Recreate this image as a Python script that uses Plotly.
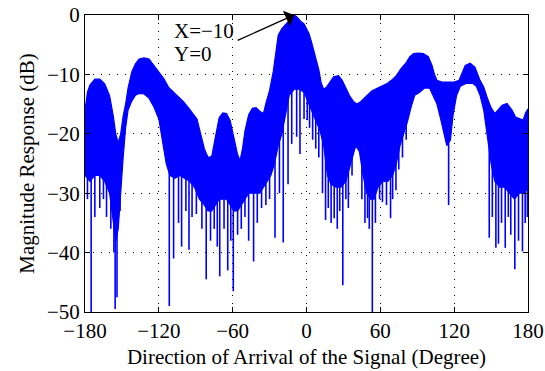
import numpy as np
import plotly.graph_objects as go

# Envelope of the beam pattern (degrees, dB)
ANG = [-180, -178, -176, -172, -168, -164, -160, -157, -155, -153, -151, -149, -147, -145, -142, -139, -136, -132,
       -128, -124, -120, -116, -112, -108, -104, -100, -96, -92, -89, -86, -83, -80, -77, -74, -71, -68, -65, -62,
       -59, -56, -54, -52, -50, -47, -44, -41, -38, -35, -33, -30, -27, -25, -23, -20, -17, -14, -12, -10, -8, -5,
       -2, 0, 2, 4, 6, 8, 10, 12, 14, 16, 19, 22, 26, 29, 32, 35, 38, 41, 44, 47, 50, 53, 57, 61, 65, 69, 73, 77,
       81, 84, 87, 91, 95, 99, 102, 104, 106, 110, 115, 120, 124, 127, 129, 133, 137, 141, 144, 147, 150, 153, 156,
       159, 163, 167, 170, 173, 176, 178, 180]
TOP = [-16, -13, -11.8, -10.8, -10.8, -11.6, -13.6, -17, -20, -21.5, -20, -17, -15, -12.3, -9.6, -8.2, -7.4, -7.2,
       -7.4, -8.5, -9.4, -10.7, -12.2, -13, -13.8, -14.6, -15.6, -16.8, -17.5, -20, -22.5, -24, -23.8, -20.5, -17.3,
       -16.5, -16.6, -17.8, -20.5, -23.5, -24.5, -22.5, -19.5, -16.8, -15.7, -15.6, -16.2, -16.6, -14.9, -12.7, -9.5,
       -6.5, -3.4, -2.3, -1.6, -1.0, -0.5, 0, -0.3, -1.0, -1.5, -2.2, -3.1, -4.5, -6, -7.6, -9.2, -11.5, -12.5,
       -12.2, -11.2, -10.4, -10.2, -11, -12.3, -13.6, -14.5, -15, -14.6, -14, -13.5, -12.8, -12.4, -12, -11.6, -11,
       -10.2, -9, -8, -7, -6.5, -6.4, -6.5, -7, -8.5, -10, -11, -11.3, -11.3, -11.3, -11, -9.5, -8.5, -8.1, -8.8,
       -11, -12.1, -14, -15.6, -16.6, -15.9, -15.2, -14.9, -16, -17.2, -17.5, -17.7, -16.5, -15.8]
BODY_ANG = [-180, -176, -172, -168, -164, -160, -157, -155, -153, -151, -149, -147, -145, -142, -139, -136, -132,
            -128, -124, -120, -117, -114, -111, -107, -103, -99, -95, -91, -87, -83, -80, -77, -74, -71, -68, -65,
            -62, -59, -56, -53, -50, -47, -44, -41, -38, -35, -32, -29, -26, -23, -20, -17, -14, -10, -6, -2, 2, 5,
            8, 11, 14, 17, 20, 24, 28, 32, 36, 40, 43, 46, 49, 52, 55, 58, 62, 66, 70, 73, 76, 79, 82, 85, 88, 92,
            96, 100, 103, 106, 109, 112, 114, 117, 119, 122, 125, 130, 135, 138, 141, 144, 147, 150, 153, 157, 161,
            165, 169, 173, 177, 180]
BODY = [-27, -28, -27, -27, -28, -30, -35, -38, -36, -30, -24, -19, -16, -14.5, -13.5, -13.2, -13.3, -14, -15.5,
        -17.5, -21, -25, -27, -27.5, -27, -27.5, -28, -29, -31, -32, -33, -33, -32, -31, -31, -31, -32, -33, -33,
        -32, -31, -30, -30, -30, -30, -29, -28, -27, -25, -22, -20, -17, -13.5, -12.5, -12.5, -13, -15, -16.5, -18,
        -19.5, -22, -27, -28.5, -29, -29, -28, -25, -22, -23, -27, -30, -31, -31, -29, -28, -28, -27, -25, -22, -20,
        -18, -15.5, -13.5, -13, -12.3, -12.3, -13.5, -15, -17.5, -20, -22, -21, -17, -13.5, -12, -11.5, -11.5, -12,
        -13.5, -16, -20, -25, -28, -29, -29, -30, -31, -30, -30, -29]

# Deep nulls (degrees, dB)
NULL_ANG = [-178, -175, -172, -168, -165, -162.5, -159, -156.5, -155.5, -154, -151.5, -111.5, -108, -104, -101.5,
            -98, -95.5, -93, -89.5, -85, -81.5, -78, -75, -72.5, -70.5, -67, -64, -61.5, -59.5, -56, -53, -50, -47,
            -43, -40, -36.5, -33, -30, -25.6, -22, -18.9, -15, -12, -8, -5.3, -2, 0.6, 2.5, 5, 7.5, 10, 13, 15.5,
            17.7, 20, 22.5, 25, 27, 29.5, 32, 34, 37, 45, 47.5, 49.6, 51, 53.5, 56, 59.4, 61.7, 65, 68.3, 70, 72.7,
            75, 78, 81, 115.5, 148.5, 151, 153.9, 156, 158.5, 161.5, 164, 166, 169.3, 172.3, 175.5, 177.7, 179.5]
NULL_DB = [-31, -50, -34, -32.5, -31, -34, -36, -40, -49.5, -47.5, -33, -49, -41, -35, -39, -33, -39.5, -34, -33.5,
           -36, -44.5, -38, -36, -39, -44, -36, -43, -38, -46.5, -37, -36, -34, -38, -41.5, -35, -32.5, -32, -31,
           -37.5, -30, -38.3, -28.5, -21.7, -20.5, -23.4, -17.5, -17.7, -19, -21, -22.5, -24, -30, -34.5, -32.5, -35,
           -34.2, -36, -33, -45.5, -31, -32.5, -27, -31, -35, -34.2, -36, -50, -35, -31, -31.5, -32, -34.2, -31,
           -29.5, -26, -24, -21, -32, -37.5, -34, -39.2, -38.5, -35, -39.2, -34, -37, -42.8, -38, -39.8, -35, -34]

X_TICKS = [-180, -120, -60, 0, 60, 120, 180]
Y_TICKS = [-50, -40, -30, -20, -10, 0]
PEAK_X, PEAK_Y = -10, 0

BLUE = "#0000ff"
FONT = "Liberation Serif"
FS = 21

fig = go.Figure()
# band between body bottom and top envelope, drawn as one polygon
poly_x = list(ANG) + list(BODY_ANG[::-1])
poly_y = list(TOP) + list(BODY[::-1])
fig.add_trace(go.Scatter(x=poly_x, y=poly_y, mode="lines", fill="toself", fillcolor=BLUE,
                         line=dict(color=BLUE, width=1.2), showlegend=False, hoverinfo="skip"))

nx, ny = [], []
for a, d in zip(NULL_ANG, NULL_DB):
    start = float(np.interp(a, BODY_ANG, BODY)) + 2
    nx += [a, a, None]
    ny += [start, d, None]
fig.add_trace(go.Scatter(x=nx, y=ny, mode="lines", line=dict(color=BLUE, width=1.6),
                         showlegend=False, hoverinfo="skip", connectgaps=False))

axis_common = dict(showline=True, linecolor="black", linewidth=1, mirror="allticks", ticks="inside",
                   ticklen=5, tickcolor="black", showgrid=True, gridcolor="black", gridwidth=1,
                   griddash="1px,7px", zeroline=False, automargin=False,
                   tickfont=dict(family=FONT, size=FS, color="black"))

fig.update_xaxes(range=[-180, 180], tickvals=X_TICKS, ticktext=[str(v).replace("-", "−") for v in X_TICKS],
                 title=dict(text="Direction of Arrival of the Signal (Degree)",
                            font=dict(family=FONT, size=FS, color="black"), standoff=7),
                 **axis_common)
fig.update_yaxes(range=[-50, 0], tickvals=Y_TICKS, ticktext=[str(v).replace("-", "−") for v in Y_TICKS],
                 title=dict(text="Magnitude Response (dB)",
                            font=dict(family=FONT, size=FS, color="black"), standoff=6),
                 **axis_common)

fig.add_annotation(x=PEAK_X, y=PEAK_Y, ax=-58, ay=26, text="", showarrow=True, arrowhead=1,
                   arrowsize=2.2, arrowwidth=1.3, arrowcolor="black", standoff=0)
fig.add_annotation(x=-109.5, y=-2.7, text="X=−10", showarrow=False, xanchor="left", yanchor="middle",
                   font=dict(family=FONT, size=FS, color="black"))
fig.add_annotation(x=-109.5, y=-6.6, text="Y=0", showarrow=False, xanchor="left", yanchor="middle",
                   font=dict(family=FONT, size=FS, color="black"))

fig.update_layout(width=545, height=371, margin=dict(l=85, r=17, t=15, b=59),
                  plot_bgcolor="white", paper_bgcolor="white", showlegend=False)

fig.write_html("out.html")
